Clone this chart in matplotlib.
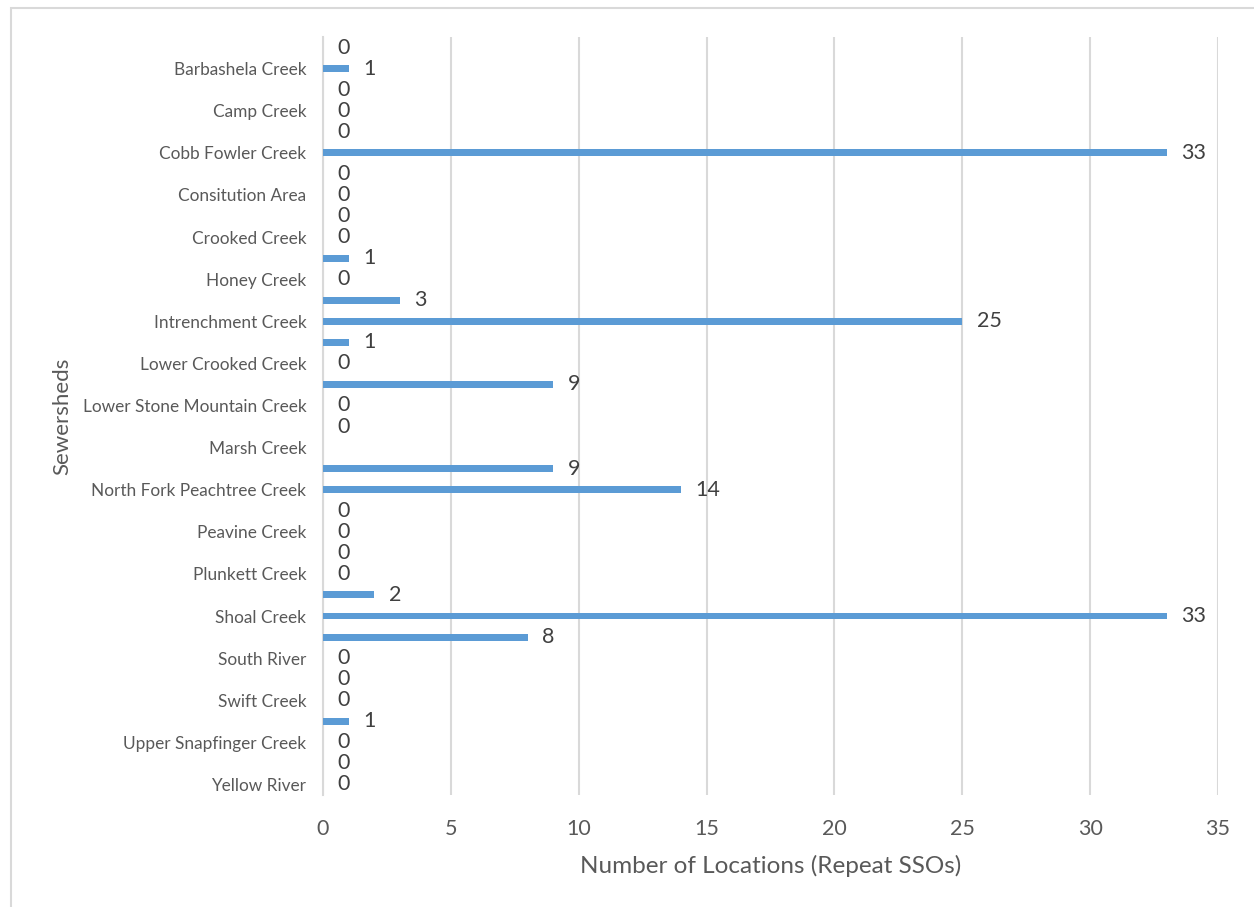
import matplotlib.pyplot as plt
import numpy as np
from matplotlib.patches import Rectangle

plt.rcParams["font.family"] = ["Lato", "DejaVu Sans"]

# One row per sewershed record, top to bottom; only every other row gets a name on the axis
VALUES = [
    0, 1, 0, 0, 0, 33, 0, 0, 0, 0, 1, 0,
    3, 25, 1, 0, 9, 0, 0, np.nan, 9, 14, 0, 0,
    0, 0, 2, 33, 8, 0, 0, 0, 1, 0, 0, 0,
]
TICK_LABELS = [
    "Barbashela Creek",
    "Camp Creek",
    "Cobb Fowler Creek",
    "Consitution Area",
    "Crooked Creek",
    "Honey Creek",
    "Intrenchment Creek",
    "Lower Crooked Creek",
    "Lower Stone Mountain Creek",
    "Marsh Creek",
    "North Fork Peachtree Creek",
    "Peavine Creek",
    "Plunkett Creek",
    "Shoal Creek",
    "South River",
    "Swift Creek",
    "Upper Snapfinger Creek",
    "Yellow River",
]
X_TICKS = [0, 5, 10, 15, 20, 25, 30, 35]

BAR_COLOR = "#5B9BD5"
GRID_COLOR = "#D9D9D9"
TEXT_COLOR = "#595959"
LABEL_COLOR = "#404040"

values = np.array(VALUES, dtype=float)
rows = np.arange(1, len(values) + 1)

fig = plt.figure(figsize=(12.54, 9.07), dpi=100)
ax = fig.add_axes([0.2576, 0.1235, 0.7137, 0.8357])

# chart area border (only top and left edges fall inside the image)
fig.patches.append(
    Rectangle((11 / 1254, -0.01), 1.2, 1 - 8 / 907 + 0.01, transform=fig.transFigure,
              fill=False, edgecolor=GRID_COLOR, linewidth=1.5)
)

ax.barh(rows, np.nan_to_num(values), height=0.33, color=BAR_COLOR, zorder=3)

for r, v in zip(rows, values):
    if np.isnan(v):
        continue
    ax.annotate(f"{int(v)}", (v, r), xytext=(10.5, 0), textcoords="offset points",
                ha="left", va="center", fontsize=15.5, color=LABEL_COLOR, zorder=4)

ax.set_xlim(0, 35)
ax.set_ylim(len(values) + 0.5, 0.5)
ax.set_xticks(X_TICKS)
ax.set_yticks(rows[1::2])
ax.set_yticklabels(TICK_LABELS)

ax.grid(axis="x", color=GRID_COLOR, linewidth=1.5, zorder=0)
ax.set_axisbelow(True)
for side in ["top", "right", "bottom"]:
    ax.spines[side].set_visible(False)
ax.spines["left"].set_color(GRID_COLOR)
ax.spines["left"].set_linewidth(1.5)

ax.tick_params(axis="y", length=0, pad=12, labelsize=12.4, labelcolor=TEXT_COLOR)
ax.tick_params(axis="x", length=0, pad=17, labelsize=15.5, labelcolor=TEXT_COLOR)

ax.set_xlabel("Number of Locations (Repeat SSOs)", fontsize=17.5, color=TEXT_COLOR,
              labelpad=12)
ax.set_ylabel("Sewersheds", fontsize=16, color=TEXT_COLOR)
ax.yaxis.set_label_coords(-0.28, 0.5)

fig.savefig("out.png", dpi=100)
